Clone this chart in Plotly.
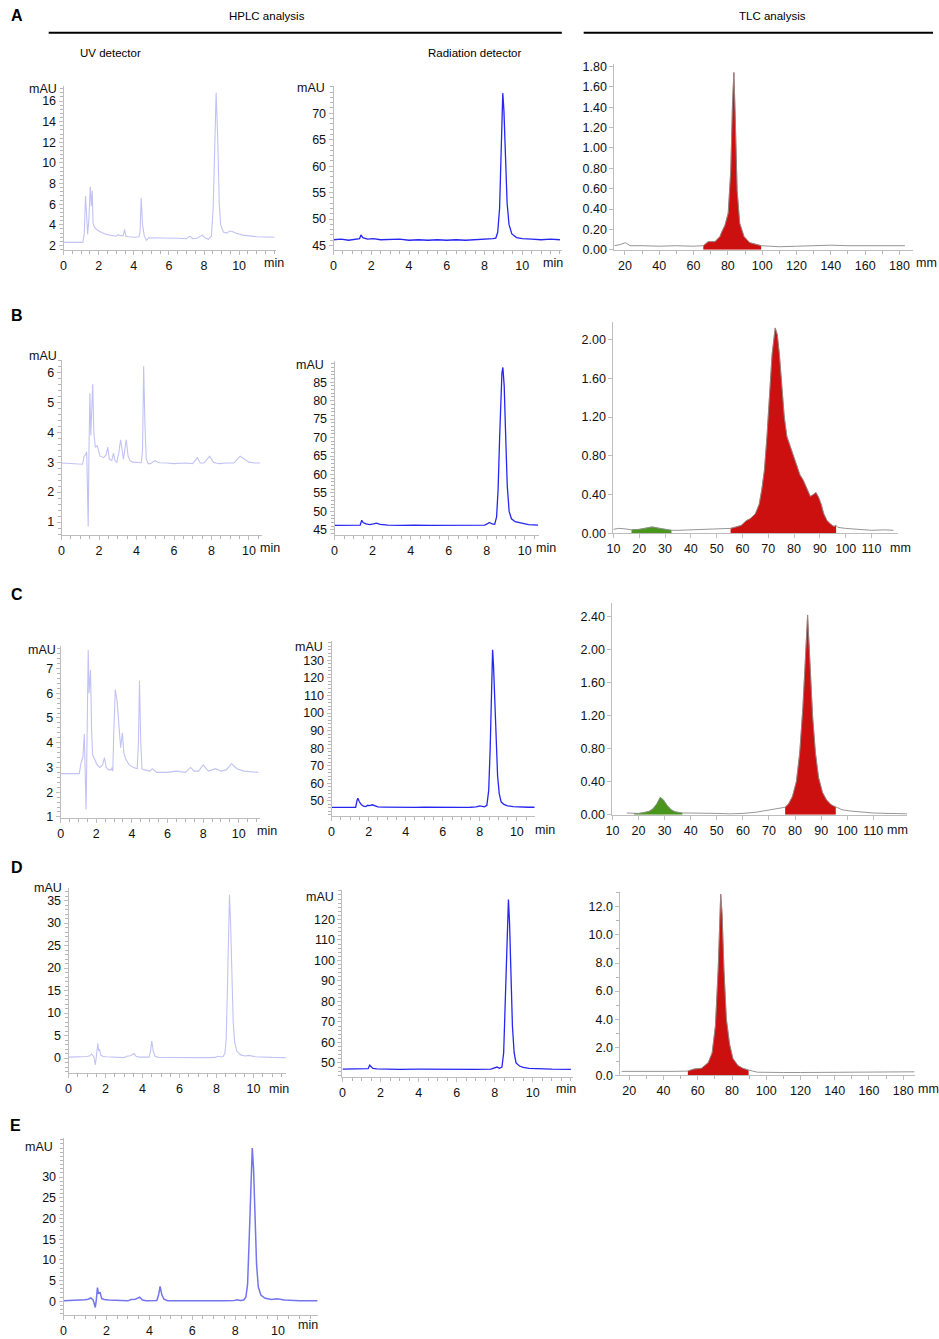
import plotly.graph_objects as go

# ---------------------------------------------------------------
# Data
# ---------------------------------------------------------------
# HPLC, UV detector (time in min, signal in mAU)
uv_a_t = [0, 1.1, 1.18, 1.25, 1.31, 1.37, 1.44, 1.52, 1.58, 1.63, 1.68, 1.75, 1.85, 2.0, 2.3, 2.6, 3.0, 3.1,
          3.25, 3.4, 3.47, 3.55, 3.7, 4.0, 4.3, 4.36, 4.42, 4.5, 4.6, 4.72, 4.85, 5.2, 6.0, 6.5, 7.0, 7.2,
          7.35, 7.6, 7.9, 8.05, 8.25, 8.42, 8.52, 8.6, 8.69, 8.78, 8.87, 8.95, 9.1, 9.3, 9.45, 9.6, 9.8,
          10.2, 11.0, 12.0]
uv_a_mau = [2.3, 2.3, 3.2, 6.8, 5.0, 3.1, 4.5, 7.7, 5.8, 7.3, 4.2, 3.8, 3.6, 3.4, 3.15, 3.0, 2.9, 3.05,
            2.95, 2.95, 3.55, 2.9, 2.85, 2.8, 2.85, 3.4, 6.6, 4.0, 2.9, 2.5, 2.75, 2.75, 2.7, 2.7, 2.65, 2.9,
            2.65, 2.7, 3.0, 2.75, 2.6, 2.9, 5.5, 12.0, 16.8, 12.5, 6.0, 4.0, 3.3, 3.2, 3.4, 3.35, 3.2,
            3.0, 2.85, 2.8]

uv_b_t = [0, 0.5, 1.0, 1.12, 1.2, 1.28, 1.34, 1.38, 1.42, 1.46, 1.51, 1.56, 1.61, 1.66, 1.72, 1.8, 1.9,
          2.05, 2.25, 2.38, 2.46, 2.55, 2.68, 2.77, 2.85, 2.95, 3.05, 3.15, 3.3, 3.45, 3.55, 3.65, 3.8,
          4.0, 4.25, 4.32, 4.38, 4.45, 4.52, 4.62, 4.75, 4.97, 5.2, 5.6, 6.0, 6.6, 7.0, 7.24, 7.4, 7.6,
          7.9, 8.1, 8.4, 8.8, 9.2, 9.53, 9.75, 10.0, 10.3, 10.6]
uv_b_mau = [2.97, 2.96, 2.95, 2.93, 3.2, 3.25, 3.35, 2.2, 0.85, 3.3, 5.3, 3.9, 4.6, 5.6, 4.0, 3.5, 3.55,
            3.2, 3.15, 3.25, 3.5, 3.1, 3.05, 3.3, 3.05, 3.0, 3.3, 3.75, 3.1, 3.75, 3.2, 3.05, 3.0,
            3.0, 2.98, 3.4, 6.2, 4.2, 3.1, 2.95, 2.95, 3.05, 2.98, 2.97, 2.95, 2.97, 2.95, 3.15, 2.97, 2.97,
            3.2, 3.0, 2.95, 2.97, 2.97, 3.2, 3.1, 3.0, 2.97, 2.97]

uv_c_t = [0, 0.6, 1.05, 1.15, 1.25, 1.33, 1.38, 1.43, 1.47, 1.51, 1.55, 1.6, 1.64, 1.68, 1.74, 1.8, 1.9,
          2.05, 2.2, 2.36, 2.46, 2.56, 2.7, 2.84, 2.89, 2.93, 2.99, 3.07, 3.17, 3.27, 3.37, 3.47, 3.55,
          3.65, 3.85, 4.1, 4.3, 4.37, 4.43, 4.5, 4.57, 4.7, 5.0, 5.15, 5.4, 6.0, 6.5, 7.0, 7.3, 7.5,
          7.75, 8.0, 8.3, 8.7, 9.0, 9.3, 9.6, 9.9, 10.3, 11.1]
uv_c_mau = [2.75, 2.75, 2.75, 3.2, 3.4, 4.35, 3.0, 1.3, 3.3, 6.2, 7.75, 6.0, 6.4, 6.95, 4.5, 3.5, 3.35,
            3.1, 3.0, 3.1, 3.4, 3.0, 2.9, 2.9, 3.0, 2.85, 4.5, 6.15, 5.7, 4.8, 3.8, 4.4, 3.6,
            3.35, 3.1, 3.0, 2.95, 4.0, 6.5, 4.0, 2.95, 2.9, 2.85, 2.95, 2.8, 2.8, 2.85, 2.8, 3.0, 2.85,
            2.85, 3.1, 2.85, 2.95, 2.85, 2.9, 3.15, 2.95, 2.85, 2.8]

uv_d_t = [0, 0.5, 1.0, 1.15, 1.25, 1.37, 1.45, 1.51, 1.58, 1.63, 1.67, 1.75, 1.85, 2.0, 2.5, 3.0, 3.15,
          3.35, 3.54, 3.65, 3.8, 4.0, 4.35, 4.43, 4.5, 4.58, 4.68, 4.85, 5.5, 6.5, 7.5, 7.95, 8.06, 8.2,
          8.35, 8.45, 8.52, 8.58, 8.64, 8.7, 8.76, 8.83, 8.9, 8.98, 9.1, 9.3, 9.55, 9.75, 10.1, 11.0, 11.75]
uv_d_mau = [0.2, 0.25, 0.35, 0.5, 0.9, 0.3, -1.5, 0.5, 3.3, 1.6, 2.0, 0.6, 0.4, 0.3, 0.25, 0.1, 0.4,
            0.5, 1.0, 0.4, 0.2, 0.15, 0.2, 1.5, 3.8, 1.5, 0.4, 0.15, 0.1, 0.1, 0.1, 0.15, 0.4, 0.3,
            0.3, 1.0, 4.0, 14.0, 28.0, 36.3, 30.0, 18.0, 8.0, 3.5, 1.5, 0.7, 0.45, 0.6, 0.3, 0.15, 0.1]

uv_e_t = [0, 0.5, 1.0, 1.15, 1.27, 1.38, 1.48, 1.53, 1.58, 1.63, 1.7, 1.78, 1.9, 2.1, 2.5, 3.0, 3.15,
          3.35, 3.55, 3.68, 3.85, 4.1, 4.35, 4.43, 4.5, 4.58, 4.68, 4.85, 5.5, 6.5, 7.5, 7.95, 8.08, 8.25,
          8.4, 8.5, 8.58, 8.65, 8.72, 8.8, 8.86, 8.93, 9.0, 9.08, 9.2, 9.4, 9.7, 9.95, 10.3, 11.0, 11.85]
uv_e_mau = [0.1, 0.15, 0.35, 0.5, 0.8, 0.3, -1.5, 0.5, 3.3, 1.8, 2.2, 0.6, 0.4, 0.3, 0.2, 0.1, 0.4,
            0.5, 1.0, 0.3, 0.15, 0.1, 0.2, 1.5, 3.6, 1.6, 0.5, 0.15, 0.1, 0.05, 0.1, 0.15, 0.35, 0.2,
            0.3, 1.0, 4.0, 14.0, 28.0, 37.0, 32.0, 20.0, 9.0, 3.5, 1.5, 0.7, 0.4, 0.6, 0.3, 0.1, 0.1]

# HPLC, radiation detector
rad_a_t = [0, 0.4, 0.8, 1.2, 1.38, 1.45, 1.55, 1.8, 2.1, 2.5, 3.0, 3.5, 4.0, 4.5, 5.0, 5.5, 6.0, 6.5,
           7.0, 7.5, 8.0, 8.3, 8.45, 8.6, 8.7, 8.8, 8.9, 8.97, 9.03, 9.1, 9.2, 9.3, 9.45, 9.7, 10.0,
           10.5, 11.0, 11.5, 12.0]
rad_a_mau = [46.1, 46.2, 46.0, 46.2, 46.3, 47.0, 46.5, 46.2, 46.3, 46.1, 46.1, 46.2, 46.0, 46.1, 46.0,
             46.1, 46.0, 46.1, 46.0, 46.1, 46.1, 46.2, 46.3, 46.4, 47.5, 52.0, 64.0, 73.8, 70.5, 62.0,
             53.0, 49.0, 47.2, 46.5, 46.3, 46.2, 46.1, 46.2, 46.1]

rad_b_t = [0, 0.5, 1.0, 1.35, 1.43, 1.5, 1.65, 1.85, 2.05, 2.2, 2.4, 2.8, 3.5, 4.2, 5.0, 5.8, 6.6, 7.4,
           7.9, 8.05, 8.15, 8.28, 8.42, 8.52, 8.6, 8.68, 8.75, 8.8, 8.85, 8.92, 9.0, 9.08, 9.18, 9.3,
           9.5, 9.8, 10.2, 10.7]
rad_b_mau = [46.2, 46.2, 46.2, 46.3, 47.6, 47.0, 46.6, 46.4, 46.6, 46.8, 46.5, 46.3, 46.2, 46.3, 46.2,
             46.2, 46.3, 46.2, 46.3, 46.7, 47.0, 46.6, 46.5, 48.5, 56.0, 70.0, 82.0, 87.5, 89.0, 84.0,
             70.0, 57.0, 50.0, 48.0, 47.2, 46.8, 46.4, 46.3]

rad_c_t = [0, 0.5, 1.0, 1.3, 1.38, 1.42, 1.5, 1.6, 1.72, 1.85, 1.95, 2.05, 2.2, 2.35, 2.5, 2.8, 3.2, 3.6,
           4.0, 4.5, 5.0, 5.5, 6.0, 6.5, 7.0, 7.5, 7.8, 8.0, 8.12, 8.25, 8.38, 8.48, 8.56, 8.63, 8.69,
           8.74, 8.8, 8.88, 8.96, 9.05, 9.15, 9.3, 9.5, 9.8, 10.2, 10.6, 10.95]
rad_c_mau = [46.3, 46.2, 46.3, 46.4, 50.5, 51.5, 49.5, 48.0, 47.0, 46.8, 47.5, 47.3, 47.8, 47.0, 46.6,
             46.5, 46.4, 46.3, 46.4, 46.3, 46.4, 46.3, 46.3, 46.4, 46.3, 46.4, 46.6, 47.2, 47.0, 46.6,
             47.5, 56.0, 80.0, 112.0, 136.0, 127.0, 108.0, 82.0, 64.0, 54.0, 49.5, 48.0, 47.2, 46.8,
             46.5, 46.4, 46.4]

rad_d_t = [0, 0.5, 1.0, 1.35, 1.43, 1.5, 1.6, 1.8, 2.2, 3.0, 4.0, 5.0, 6.0, 7.0, 7.8, 8.0, 8.12, 8.25,
           8.38, 8.47, 8.55, 8.62, 8.68, 8.72, 8.78, 8.85, 8.93, 9.02, 9.12, 9.3, 9.5, 9.8, 10.3, 11.0, 12.0]
rad_d_mau = [47.0, 47.0, 47.0, 47.2, 48.9, 48.0, 47.3, 47.1, 47.0, 46.9, 47.0, 46.9, 47.0, 46.9, 47.0,
             47.6, 48.0, 47.4, 48.0, 55.0, 80.0, 110.0, 128.0, 129.7, 118.0, 90.0, 68.0, 55.0, 50.0,
             48.5, 47.8, 47.4, 47.1, 47.0, 46.9]

# TLC radio-scans (distance in mm, counts), with the integrated regions
tlc_a_mm = [13.7, 17, 20.4, 23, 30, 40, 50, 60, 65.7, 68.6, 72.5, 75.4, 76.3, 78.3, 80.2, 81.7, 82.7, 83.5,
            84.2, 85.4, 86.9, 89.4, 92.7, 97.5, 99.4, 105, 110, 120, 130, 140, 150, 160, 170, 180, 183.2]
tlc_a_val = [0.04, 0.05, 0.07, 0.04, 0.04, 0.035, 0.04, 0.035, 0.04, 0.08, 0.08, 0.13, 0.17, 0.24, 0.36,
             0.78, 1.43, 1.74, 1.36, 0.58, 0.26, 0.13, 0.07, 0.05, 0.04, 0.035, 0.03, 0.035, 0.04, 0.045,
             0.04, 0.04, 0.045, 0.045, 0.04]
tlc_a_red = (65.7, 99.4)

tlc_b_mm = [10, 12, 14.5, 17, 20, 23, 25, 28, 31, 32.5, 35, 40, 45, 50, 53, 55.4, 57, 59.5, 61.5, 63,
            65, 66.5, 67.5, 68.5, 69.5, 70.5, 71.5, 72.7, 73.5, 74.3, 75.3, 76.2, 77.2, 78.5, 79.8, 81,
            82.3, 83.5, 85, 86.3, 87.5, 88.5, 89.5, 90.5, 91.5, 92.8, 94.3, 95.5, 96.3, 97, 100, 105,
            110, 115, 118.5]
tlc_b_val = [0.04, 0.05, 0.045, 0.035, 0.04, 0.055, 0.065, 0.05, 0.04, 0.03, 0.03, 0.035, 0.035, 0.045,
             0.05, 0.05, 0.06, 0.08, 0.13, 0.15, 0.2, 0.3, 0.45, 0.65, 1.0, 1.45, 1.85, 2.12, 2.05, 1.85,
             1.5, 1.2, 1.0, 0.9, 0.8, 0.7, 0.6, 0.55, 0.45, 0.38, 0.4, 0.42, 0.37, 0.3, 0.2, 0.13, 0.09,
             0.07, 0.08, 0.06, 0.05, 0.04, 0.03, 0.035, 0.03]
tlc_b_green = (17, 32.5)
tlc_b_red = (55.4, 96.3)

tlc_c_mm = [15.5, 18.3, 20, 22, 24, 25.5, 27, 28.3, 29.5, 31, 32.5, 34, 36.8, 40, 45, 50, 55, 60, 65, 70,
            74, 76.2, 77.5, 79, 80.5, 81.8, 83, 84, 84.8, 85.7, 86.7, 87.8, 89, 90.5, 92, 93.8, 95.6, 98,
            101, 105, 110, 116, 123]
tlc_c_val = [0.02, 0.015, 0.015, 0.025, 0.04, 0.07, 0.13, 0.21, 0.18, 0.11, 0.06, 0.035, 0.02, 0.02,
             0.02, 0.015, 0.01, 0.015, 0.03, 0.055, 0.08, 0.09, 0.13, 0.22, 0.4, 0.75, 1.3, 1.9, 2.42,
             1.85, 1.2, 0.75, 0.45, 0.27, 0.18, 0.12, 0.09, 0.06, 0.045, 0.03, 0.02, 0.015, 0.01]
tlc_c_green = (18.3, 36.8)
tlc_c_red = (76.2, 95.6)

tlc_d_mm = [15.5, 25, 35, 45, 54.2, 58, 62.2, 66.1, 68.4, 70.3, 71.9, 72.8, 73.4, 74.2, 75.3, 76.7, 78.6,
            80.5, 83.4, 86.3, 89.7, 92, 95, 100, 110, 120, 140, 160, 180, 186.5]
tlc_d_val = [0.28, 0.27, 0.28, 0.28, 0.3, 0.45, 0.5, 0.9, 1.6, 3.5, 7.5, 11.0, 12.9, 11.5, 7.5, 4.0, 2.2,
             1.2, 0.7, 0.5, 0.35, 0.3, 0.22, 0.2, 0.2, 0.2, 0.22, 0.23, 0.25, 0.25]
tlc_d_red = (54.2, 89.7)

# Tick labels
hplc_xticks = [0, 2, 4, 6, 8, 10]
tlc_long_xticks = [20, 40, 60, 80, 100, 120, 140, 160, 180]
tlc_short_xticks = [10, 20, 30, 40, 50, 60, 70, 80, 90, 100, 110]

# ---------------------------------------------------------------
# Styles
# ---------------------------------------------------------------
W, H = 939, 1339
FONT = "Liberation Sans, Arial, sans-serif"
AXIS = "#bdbdbd"
MINOR = "#b4b4b4"
UV_COLOR = "#c2c2f5"
RAD_COLOR = "#2626f2"
E_COLOR = "#7474ee"
TLC_LINE = "#8a8a8a"
RED = "#cc1010"
GREEN = "#4a961c"
TICK_SIZE = 12.5

fig = go.Figure()


def add_axes(n, box, xrange, yrange, xticks, yticks, xminor=None, yminor=None, yfmt=None):
    # box = (left, right, top, bottom) in pixels of the page
    left, right, top, bottom = box
    sfx = "" if n == 1 else str(n)
    common = dict(showline=True, linecolor=AXIS, linewidth=1, ticks="outside", ticklen=4,
                  tickcolor=AXIS, showgrid=False, zeroline=False, fixedrange=True,
                  tickfont=dict(family=FONT, size=TICK_SIZE, color="#111111"), tickmode="array")
    xa = dict(common, domain=[left / W, right / W], range=xrange, tickvals=xticks, anchor="y" + sfx)
    ya = dict(common, domain=[1 - bottom / H, 1 - top / H], range=yrange, tickvals=yticks,
              anchor="x" + sfx)
    if xminor:
        xa["minor"] = dict(ticks="outside", ticklen=3, tickcolor=MINOR, tickmode="linear",
                           dtick=xminor, tick0=0, showgrid=False)
    if yminor:
        ya["minor"] = dict(ticks="outside", ticklen=3, tickcolor=MINOR, tickmode="linear",
                           dtick=yminor, tick0=0, showgrid=False)
    if yfmt:
        ya["tickformat"] = yfmt
    fig.update_layout({"xaxis" + sfx: xa, "yaxis" + sfx: ya})
    return "x" + sfx, "y" + sfx


def hplc(n, box, xrange, yrange, yticks, yminor, t, mau, color, width):
    xr, yr = add_axes(n, box, xrange, yrange, hplc_xticks, yticks, xminor=0.5, yminor=yminor)
    fig.add_trace(go.Scatter(x=t, y=mau, mode="lines", xaxis=xr, yaxis=yr,
                             line=dict(color=color, width=width), showlegend=False, hoverinfo="skip"))


def tlc(n, box, xrange, yrange, xticks, yticks, yfmt, mm, val, red, green=None, xminor=None, yminor=None):
    xr, yr = add_axes(n, box, xrange, yrange, xticks, yticks, xminor=xminor, yminor=yminor, yfmt=yfmt)
    for region, color in ((green, GREEN), (red, RED)):
        if region is None:
            continue
        pts = [(m, v) for m, v in zip(mm, val) if region[0] <= m <= region[1]]
        fig.add_trace(go.Scatter(x=[p[0] for p in pts], y=[p[1] for p in pts], mode="lines",
                                 fill="tozeroy", fillcolor=color, line=dict(color=color, width=0.5),
                                 xaxis=xr, yaxis=yr, showlegend=False, hoverinfo="skip"))
    fig.add_trace(go.Scatter(x=mm, y=val, mode="lines", xaxis=xr, yaxis=yr,
                             line=dict(color=TLC_LINE, width=0.9), showlegend=False, hoverinfo="skip"))


# Row A
hplc(1, (57, 271, 82, 247), [0, 12.1], [1.58, 17.44], [2, 4, 6, 8, 10, 12, 14, 16], 0.4,
     uv_a_t, uv_a_mau, UV_COLOR, 1.1)
hplc(2, (329, 559, 82, 247), [0, 12.1], [44.2, 75.1], [45, 50, 55, 60, 65, 70], 1,
     rad_a_t, rad_a_mau, RAD_COLOR, 1.3)
tlc(3, (612, 913, 60, 247), [13.9, 188], [0, 1.82], tlc_long_xticks,
    [0, 0.2, 0.4, 0.6, 0.8, 1.0, 1.2, 1.4, 1.6, 1.8], ".2f", tlc_a_mm, tlc_a_val, tlc_a_red, xminor=10)

# Row B
hplc(4, (55, 257, 358, 535), [0, 10.7], [0.56, 6.42], [1, 2, 3, 4, 5, 6], 0.2,
     uv_b_t, uv_b_mau, UV_COLOR, 1.1)
hplc(5, (330, 536, 359, 535), [0, 10.75], [43.55, 90.8], [45, 50, 55, 60, 65, 70, 75, 80, 85], 1,
     rad_b_t, rad_b_mau, RAD_COLOR, 1.3)
tlc(6, (611, 898, 320, 533), [10, 120.4], [0, 2.18], tlc_short_xticks, [0, 0.4, 0.8, 1.2, 1.6, 2.0],
    ".2f", tlc_b_mm, tlc_b_val, tlc_b_red, green=tlc_b_green)

# Row C
hplc(7, (54, 255, 647, 820), [0, 11.2], [0.97, 7.9], [1, 2, 3, 4, 5, 6, 7], 0.2,
     uv_c_t, uv_c_mau, UV_COLOR, 1.1)
hplc(8, (327, 532, 642, 818), [0, 10.98], [41.6, 140.9], [50, 60, 70, 80, 90, 100, 110, 120, 130], 2,
     rad_c_t, rad_c_mau, RAD_COLOR, 1.3)
tlc(9, (610, 907, 603, 817), [10, 123], [0, 2.57], tlc_short_xticks, [0, 0.4, 0.8, 1.2, 1.6, 2.0, 2.4],
    ".2f", tlc_c_mm, tlc_c_val, tlc_c_red, green=tlc_c_green)

# Row D
hplc(10, (62, 281, 891, 1078), [0, 11.75], [-3.4, 37.8], [0, 5, 10, 15, 20, 25, 30, 35], 1,
     uv_d_t, uv_d_mau, UV_COLOR, 1.1)
hplc(11, (338, 570, 893, 1082), [0, 12.1], [43, 134.4], [50, 60, 70, 80, 90, 100, 110, 120], 2,
     rad_d_t, rad_d_mau, RAD_COLOR, 1.3)
tlc(12, (618, 915, 895, 1080), [14.8, 187], [0, 13.06], tlc_long_xticks, [0, 2, 4, 6, 8, 10, 12],
    ".1f", tlc_d_mm, tlc_d_val, tlc_d_red, xminor=10, yminor=1)

# Row E
hplc(13, (57, 313, 1143, 1322), [0, 11.85], [-3.36, 39.5], [0, 5, 10, 15, 20, 25, 30], 1,
     uv_e_t, uv_e_mau, E_COLOR, 1.5)

# ---------------------------------------------------------------
# Texts: panel letters, headers and axis units
# ---------------------------------------------------------------
texts = [
    ("A", 10, 11, 16, True), ("B", 10, 313, 16, True), ("C", 10, 595, 16, True),
    ("D", 10, 870, 16, True), ("E", 9, 1131, 16, True),
    ("HPLC analysis", 262, 11, 11.5, False), ("TLC analysis", 771, 11, 11.5, False),
    ("UV detector", 104, 48, 11.5, False), ("Radiation detector", 472, 48, 11.5, False),
]
units = [
    ("mAU", 36, 85), ("mAU", 306, 84), ("mAU", 36, 354), ("mAU", 305, 363), ("mAU", 35, 651),
    ("mAU", 304, 648), ("mAU", 41, 891), ("mAU", 315, 900), ("mAU", 32, 1152),
    ("min", 269, 260), ("min", 550, 260), ("min", 265, 548), ("min", 543, 548), ("min", 262, 833),
    ("min", 542, 832), ("min", 274, 1094), ("min", 563, 1094), ("min", 303, 1332),
    ("mm", 926, 260), ("mm", 900, 548), ("mm", 897, 832), ("mm", 928, 1094),
]
annotations = []
for txt, x, y, size, bold in texts:
    annotations.append(dict(text="<b>%s</b>" % txt if bold else txt, x=x / W, y=1 - y / H,
                            xref="paper", yref="paper", showarrow=False, xanchor="center",
                            yanchor="middle", font=dict(family=FONT, size=size, color="black")))
for txt, x, y in units:
    annotations.append(dict(text=txt, x=x / W, y=1 - y / H, xref="paper", yref="paper",
                            showarrow=False, xanchor="center", yanchor="middle",
                            font=dict(family=FONT, size=TICK_SIZE, color="#111111")))

# Header rules under "HPLC analysis" and "TLC analysis"
shapes = [
    dict(type="line", xref="paper", yref="paper", x0=42 / W, x1=559 / W, y0=1 - 28 / H, y1=1 - 28 / H,
         line=dict(color="black", width=2)),
    dict(type="line", xref="paper", yref="paper", x0=581 / W, x1=933 / W, y0=1 - 28 / H, y1=1 - 28 / H,
         line=dict(color="black", width=2)),
]

fig.update_layout(width=W, height=H, margin=dict(l=0, r=0, t=0, b=0), autosize=False,
                  paper_bgcolor="white", plot_bgcolor="white", showlegend=False,
                  font=dict(family=FONT), annotations=annotations, shapes=shapes)

fig.write_html("out.html", config={"displayModeBar": False},
               post_script="document.body.style.margin='0';")
